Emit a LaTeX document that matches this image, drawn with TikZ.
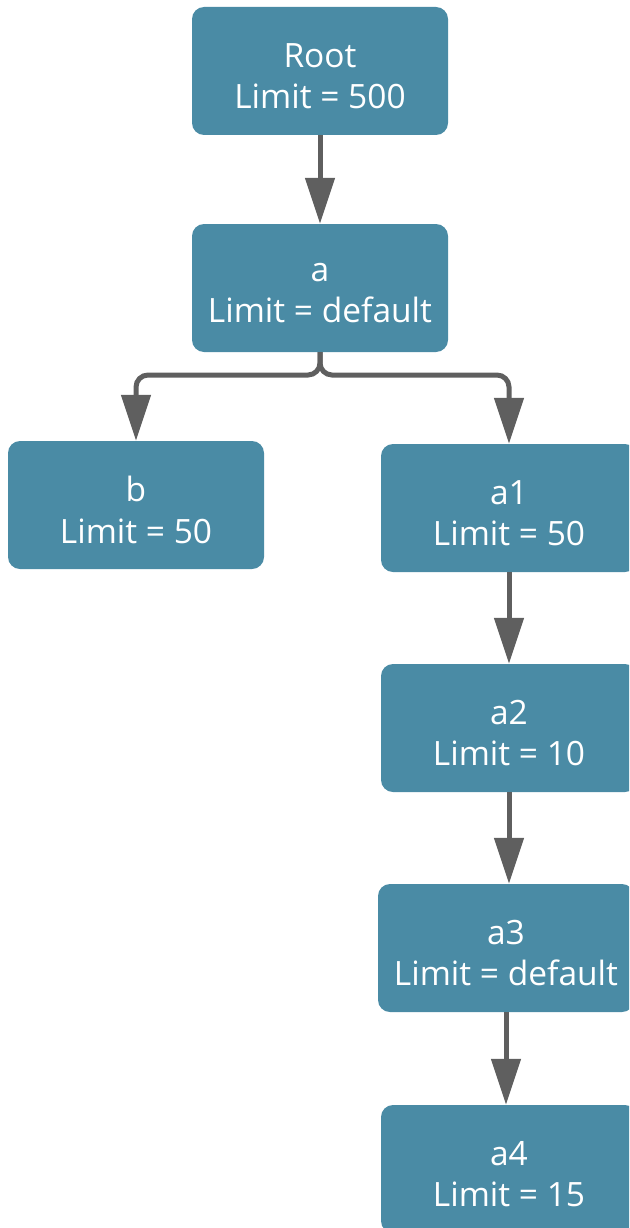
\documentclass[tikz,border=0pt]{standalone}
\usepackage{fontspec}
\setmainfont{Open Sans}
\usetikzlibrary{arrows.meta}
\definecolor{boxblue}{RGB}{74,139,165}
\definecolor{conngray}{RGB}{95,95,95}
\tikzset{
  box/.style={rectangle, rounded corners=12pt, fill=boxblue,
    minimum width=256pt, minimum height=128pt, inner sep=0pt},
  boxtext/.style={text=white, align=center, inner sep=0pt, yshift=-5pt,
    font=\fontsize{33.5}{41.5}\selectfont},
  conn/.style={draw=conngray, line width=5pt,
    -{Triangle[length=46pt,width=29pt]}},
}
\begin{document}
\begin{tikzpicture}[x=1pt,y=-1pt]
\useasboundingbox (0,0) rectangle (629,1228);
\clip (0,0) rectangle (629,1228);
\node[box, label={[boxtext]center:Root\\Limit = 500}] (root) at (320,71) {};
\node[box, label={[boxtext]center:a\\Limit = default}] (a) at (320,288) {};
\node[box, label={[boxtext]center:b\\Limit = 50}] (b) at (136,505) {};
\node[box, label={[boxtext]center:a1\\Limit = 50}] (a1) at (509,508) {};
\node[box, label={[boxtext]center:a2\\Limit = 10}] (a2) at (509,728) {};
\node[box, label={[boxtext]center:a3\\Limit = default}] (a3) at (506,948) {};
\node[box, label={[boxtext]center:a4\\Limit = 15}] (a4) at (509,1169) {};
\coordinate (split) at (320,375);
\draw[conn] (root.south) -- (a.north);
\draw[conn, rounded corners=12pt] (a.south) -- (split) -| (b.north);
\draw[conn, rounded corners=12pt] (a.south) -- (split) -| (a1.north);
\draw[conn] (a1.south) -- (a2.north);
\draw[conn] (a2.south) -- (a2.south |- a3.north);
\draw[conn] (a3.south) -- (a3.south |- a4.north);
\end{tikzpicture}
\end{document}
